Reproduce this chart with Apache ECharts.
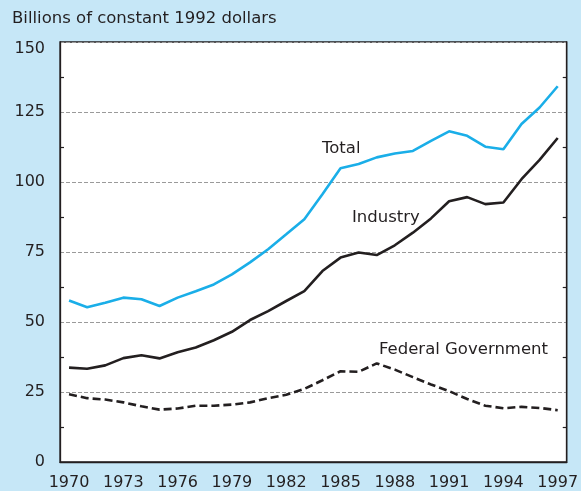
<!DOCTYPE html>
<html>
<head>
<meta charset="utf-8">
<script src="https://cdn.jsdelivr.net/npm/echarts@6/dist/echarts.min.js"></script>
<style>
  html, body { margin: 0; padding: 0; background: #c6e7f7; }
  #chart { width: 581px; height: 491px; }
</style>
</head>
<body>
<div id="chart"></div>
<script>
// R&D spending, billions of constant 1992 dollars
const years = ['1970','1971','1972','1973','1974','1975','1976','1977','1978','1979',
  '1980','1981','1982','1983','1984','1985','1986','1987','1988','1989',
  '1990','1991','1992','1993','1994','1995','1996','1997'];

const total = [57.7, 55.3, 56.9, 58.7, 58.1, 55.7, 58.7, 61.0, 63.4, 67.0,
  71.3, 76.0, 81.3, 86.7, 95.6, 104.9, 106.4, 108.8, 110.2, 111.1,
  114.7, 118.1, 116.5, 112.6, 111.7, 120.7, 126.6, 134.2];

const industry = [33.7, 33.3, 34.5, 37.1, 38.1, 37.0, 39.2, 40.9, 43.5, 46.5,
  50.7, 53.9, 57.5, 61.0, 68.2, 73.0, 74.8, 73.9, 77.4, 81.9,
  87.0, 93.1, 94.6, 92.1, 92.7, 101.0, 107.9, 115.7];

const federal = [24.2, 22.8, 22.3, 21.3, 19.9, 18.7, 19.1, 20.1, 20.1, 20.5,
  21.3, 22.8, 24.0, 26.1, 29.2, 32.4, 32.2, 35.2, 33.0, 30.3,
  27.7, 25.3, 22.5, 20.1, 19.2, 19.7, 19.3, 18.5];

const FONT = 'DejaVu Sans';
const INK = '#231f20';
const TEXT_FONT = '16.5px "' + FONT + '"';

const chart = echarts.init(document.getElementById('chart'), null, { renderer: 'canvas' });

const yBase = {
  type: 'value',
  min: 0,
  max: 150,
  interval: 25,
  axisLine: { show: true, lineStyle: { color: INK, width: 1.3 } },
  axisTick: { show: false, inside: true },
  minorTick: { show: true, splitNumber: 2, length: 4, lineStyle: { color: INK, width: 1.2 } },
  minorSplitLine: { show: false }
};

chart.setOption({
  animation: false,
  backgroundColor: '#c6e7f7',
  grid: {
    left: 60, top: 42, right: 11, bottom: 29,
    show: true, backgroundColor: '#ffffff',
    borderColor: INK, borderWidth: 1.3
  },
  xAxis: {
    type: 'category',
    data: years,
    boundaryGap: true,
    axisLine: { lineStyle: { color: INK, width: 1.3 } },
    axisTick: { alignWithLabel: true, interval: 2, inside: true, length: 5, lineStyle: { color: INK, width: 1.2 } },
    axisLabel: { interval: 2, margin: 13, color: INK, fontFamily: FONT, fontSize: 16 }
  },
  yAxis: [
    Object.assign({}, yBase, {
      position: 'left',
      splitLine: { show: true, lineStyle: { color: '#9a9a9a', width: 1, type: [4, 2] } },
      axisLabel: {
        margin: 15, color: INK, fontFamily: FONT, fontSize: 16,
        formatter: v => v === 150 ? '{t|150}' : String(v),
        rich: { t: { padding: [13, 0, 0, 0], color: INK, fontFamily: FONT, fontSize: 16 } }
      }
    }),
    Object.assign({}, yBase, {
      position: 'right',
      splitLine: { show: false },
      axisLabel: { show: false }
    })
  ],
  series: [
    {
      name: 'Total', type: 'line', data: total, symbol: 'none',
      lineStyle: { color: '#1aaee8', width: 2.6 }
    },
    {
      name: 'Industry', type: 'line', data: industry, symbol: 'none',
      lineStyle: { color: INK, width: 2.6 }
    },
    {
      name: 'Federal Government', type: 'line', data: federal, symbol: 'none',
      lineStyle: { color: INK, width: 2.6, type: [8, 4] }
    }
  ],
  graphic: [
    { type: 'text', left: 12, top: 10, style: { text: 'Billions of constant 1992 dollars', font: TEXT_FONT, fill: INK } },
    { type: 'text', x: 322, y: 149, style: { text: 'Total', font: TEXT_FONT, fill: INK, verticalAlign: 'middle' } },
    { type: 'text', x: 352, y: 218, style: { text: 'Industry', font: TEXT_FONT, fill: INK, verticalAlign: 'middle' } },
    { type: 'text', x: 379, y: 350, style: { text: 'Federal Government', font: TEXT_FONT, fill: INK, verticalAlign: 'middle' } }
  ]
});
</script>
</body>
</html>
